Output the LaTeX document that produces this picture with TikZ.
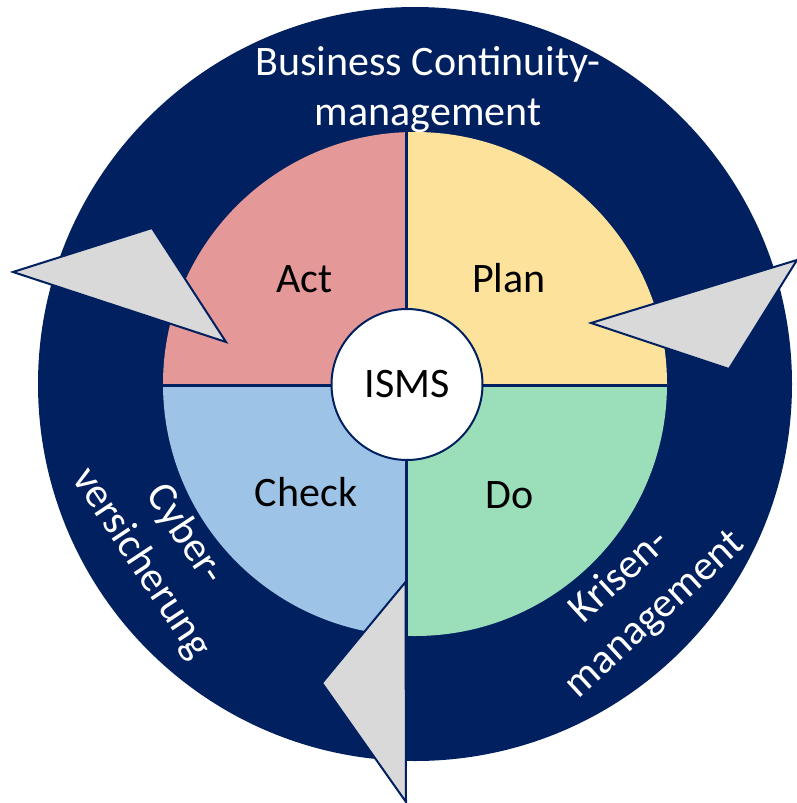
\documentclass[tikz,border=0pt]{standalone}
\usepackage{fontspec}
\setmainfont{Carlito}
\definecolor{navy}{RGB}{0,32,96}
\definecolor{actc}{RGB}{228,152,152}
\definecolor{planc}{RGB}{252,226,154}
\definecolor{checkc}{RGB}{157,195,230}
\definecolor{doc}{RGB}{155,223,186}
\definecolor{arrowgray}{RGB}{217,217,217}
\begin{document}
\begin{tikzpicture}[x=1pt,y=-1pt,
  lbl/.style={font=\fontsize{42}{50}\selectfont, text=black, inner sep=0pt},
  wt/.style={font=\fontsize{42}{52}\selectfont, text=white, inner sep=0pt, align=center},
  arrowhd/.style={draw=navy, line width=2pt, fill=arrowgray, line join=miter}]
\useasboundingbox (0,0) rectangle (796,803);
% outer ring
\fill[navy] (415,384) circle (377);
% quadrants
\coordinate (P) at (406.5,385.5);
\begin{scope}
  \clip (415,384) circle (252);
  \fill[actc] (0,0) rectangle (P);
  \fill[planc] (P |- 0,0) rectangle (796,385.5);
  \fill[checkc] (0,385.5) rectangle (406.5,803);
  \fill[doc] (P) rectangle (796,803);
  \draw[navy, line width=3.5pt] (406.5,0) -- (406.5,803) (0,385.5) -- (796,385.5);
\end{scope}
% centre
\node[circle, draw=navy, line width=2pt, fill=white, minimum size=151pt, inner sep=0pt,
  font=\fontsize{42}{50}\selectfont] (isms) at (407,384.5) {ISMS};
% quadrant labels
\node[lbl, anchor=base] (act) at (304.5,292) {Act};
\node[lbl, anchor=base] (plan) at (509,292) {Plan};
\node[lbl, anchor=base] (check) at (306,506) {Check};
\node[lbl, anchor=base] (do) at (509.5,508) {Do};
% ring labels
\node[wt, anchor=base] (bcm1) at (428,75) {Business Continuity-};
\node[wt, anchor=base] (bcm2) at (428,125) {management};
\node[wt, rotate=-56.5] (cyber) at (163,549) {Cyber-\\versicherung};
\node[wt, rotate=42.5] (krisen) at (637.5,595.5) {Krisen-\\management};
% arrow heads
\coordinate (la1) at (13,272);
\coordinate (la2) at (152,228);
\coordinate (la3) at (226,342);
\draw[arrowhd] (la1) -- (la2) -- (la3) -- cycle;
\coordinate (ra1) at (591,323);
\coordinate (ra2) at (797,260);
\coordinate (ra3) at (729,369);
\draw[arrowhd] (ra1) -- (ra2) -- (ra3) -- cycle;
\coordinate (ba1) at (405.5,582);
\coordinate (ba2) at (322,683);
\coordinate (ba3) at (406,802);
\draw[arrowhd] (ba1) -- (ba2) -- (ba3) -- cycle;
\end{tikzpicture}
\end{document}
